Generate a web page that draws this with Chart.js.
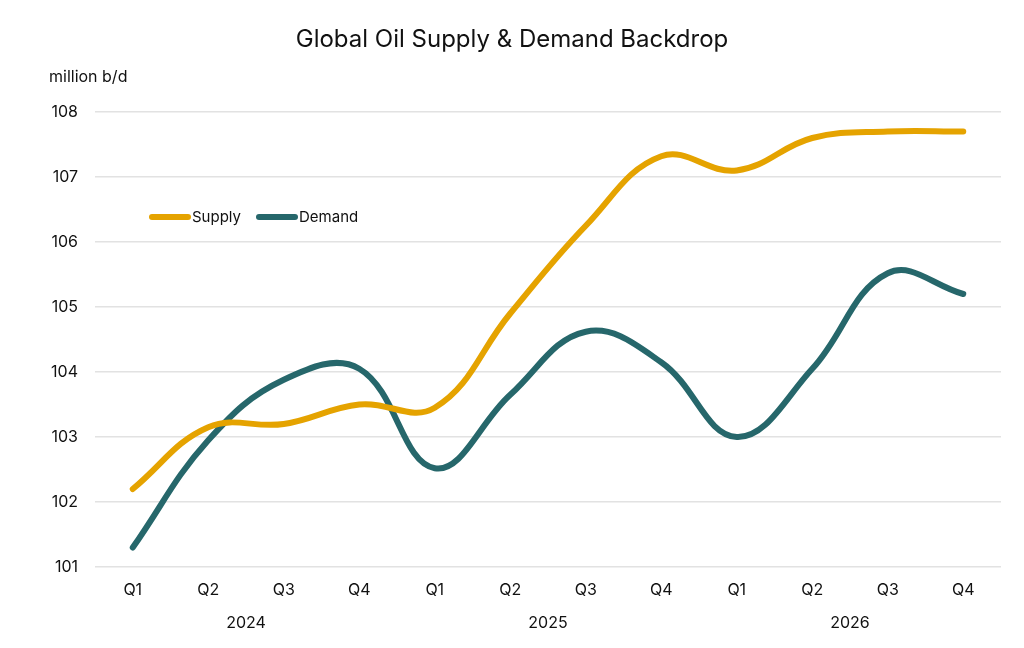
<!DOCTYPE html>
<html>
<head>
<meta charset="utf-8">
<script src="https://cdn.jsdelivr.net/npm/chart.js@4.4.1/dist/chart.umd.min.js"></script>
<style>
  html, body { margin: 0; padding: 0; background: #fff; }
  #wrap { width: 1024px; height: 648px; position: relative; }
</style>
</head>
<body>
<div id="wrap"><canvas id="oilChart"></canvas></div>
<script>
// Datos del gráfico
const quarters = ['Q1', 'Q2', 'Q3', 'Q4', 'Q1', 'Q2', 'Q3', 'Q4', 'Q1', 'Q2', 'Q3', 'Q4'];
const years = ['2024', '2025', '2026'];
const supply = [102.2, 103.15, 103.2, 103.5, 103.45, 104.9, 106.25, 107.32, 107.1, 107.6, 107.7, 107.7];
const demand = [101.3, 102.95, 103.88, 104.05, 102.52, 103.65, 104.62, 104.15, 103.0, 104.05, 105.52, 105.2];
const yTicks = [101, 102, 103, 104, 105, 106, 107, 108];

const FONT = 'Inter, "Noto Sans", sans-serif';
const SUPPLY_COLOR = '#E5A300';
const DEMAND_COLOR = '#26676B';

// Título, unidad y leyenda dibujados en el canvas
const extrasPlugin = {
  id: 'extras',
  afterDraw(chart) {
    const ctx = chart.ctx;
    ctx.save();
    ctx.fillStyle = '#111';
    ctx.textBaseline = 'middle';

    ctx.font = '24px ' + FONT;
    ctx.textAlign = 'center';
    ctx.fillText('Global Oil Supply & Demand Backdrop', 512, 40);

    ctx.font = '16px ' + FONT;
    ctx.textAlign = 'left';
    ctx.fillText('million b/d', 49, 77);

    // leyenda dentro del área
    let x = 152;
    const y = 217;
    ctx.font = '15px ' + FONT;
    chart.data.datasets.forEach(ds => {
      ctx.strokeStyle = ds.borderColor;
      ctx.lineWidth = 6;
      ctx.lineCap = 'round';
      ctx.beginPath();
      ctx.moveTo(x, y);
      ctx.lineTo(x + 36, y);
      ctx.stroke();
      ctx.fillStyle = '#111';
      ctx.fillText(ds.label, x + 40, y);
      x += 40 + ctx.measureText(ds.label).width + 18;
    });
    ctx.restore();
  }
};

new Chart(document.getElementById('oilChart'), {
  type: 'line',
  data: {
    labels: quarters,
    datasets: [
      { label: 'Supply', data: supply, borderColor: SUPPLY_COLOR, backgroundColor: SUPPLY_COLOR },
      { label: 'Demand', data: demand, borderColor: DEMAND_COLOR, backgroundColor: DEMAND_COLOR }
    ]
  },
  options: {
    responsive: true,
    maintainAspectRatio: false,
    animation: false,
    layout: { padding: { top: 112, left: 40, right: 23, bottom: 0 } },
    elements: {
      line: { borderWidth: 6, tension: 0.4, borderCapStyle: 'round', borderJoinStyle: 'round' },
      point: { radius: 0, hoverRadius: 0 }
    },
    plugins: {
      legend: { display: false },
      title: { display: false },
      tooltip: { enabled: false }
    },
    scales: {
      x: {
        offset: true,
        grid: { display: false, drawTicks: false },
        border: { display: false },
        ticks: { color: '#111', padding: 14, font: { family: FONT, size: 16 } },
        afterFit(scale) { scale.height = 40; }
      },
      x2: {
        type: 'category',
        labels: years,
        position: 'bottom',
        offset: true,
        grid: { display: false, drawTicks: false },
        border: { display: false },
        ticks: { color: '#111', padding: 7, font: { family: FONT, size: 16 } },
        afterFit(scale) { scale.height = 41; }
      },
      y: {
        min: 101,
        max: 108,
        afterBuildTicks(scale) { scale.ticks = yTicks.map(v => ({ value: v })); },
        grid: { color: '#E2E2E2', lineWidth: 1.5, drawTicks: false },
        border: { display: false },
        ticks: { color: '#111', padding: 17, font: { family: FONT, size: 16 } },
        afterFit(scale) { scale.width = 55; }
      }
    }
  },
  plugins: [extrasPlugin]
});
</script>
</body>
</html>
